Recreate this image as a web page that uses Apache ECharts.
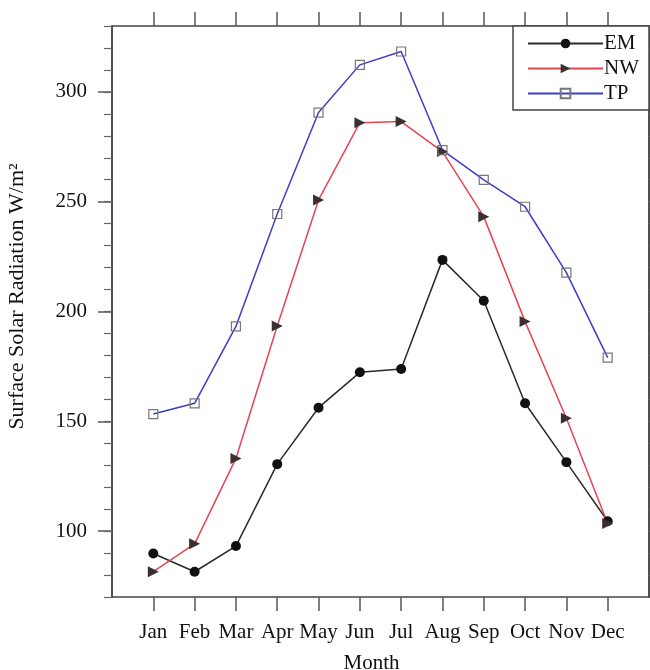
<!DOCTYPE html>
<html>
<head>
<meta charset="utf-8">
<script src="https://cdn.jsdelivr.net/npm/echarts@6/dist/echarts.min.js"></script>
<style>
  html, body { margin: 0; padding: 0; background: #fff; }
  #main { width: 650px; height: 670px; }
</style>
</head>
<body>
<div id="main"></div>
<script>
var months = ['Jan', 'Feb', 'Mar', 'Apr', 'May', 'Jun', 'Jul', 'Aug', 'Sep', 'Oct', 'Nov', 'Dec'];
var em = [89.8, 81.5, 93.2, 130.5, 156.2, 172.3, 173.8, 223.5, 204.9, 158.2, 131.4, 104.5];
var nw = [81.5, 94.2, 133.1, 193.4, 250.8, 286.0, 286.5, 272.8, 243.2, 195.4, 151.4, 103.5];
var tp = [153.3, 158.2, 193.2, 244.4, 290.6, 312.3, 318.4, 273.5, 259.9, 247.7, 217.7, 179.0];
var yMajor = [100, 150, 200, 250, 300];

var font = 'Liberation Serif';
var monthPos = months.map(function (m, i) { return i + 1; });

function pairs(arr) {
    return arr.map(function (v, i) { return [i + 1, v]; });
}

var myChart = echarts.init(document.getElementById('main'));

var axisLine = { show: true, lineStyle: { color: '#444', width: 1.5 } };

// y axes: one for the labelled 50-steps, one for the small 10-steps
function yAxes(pos) {
    return [{
        type: 'value', position: pos, min: 70, max: 330,
        name: pos === 'left' ? 'Surface Solar Radiation W/m²' : '',
        nameLocation: 'middle', nameGap: 84,
        nameTextStyle: { fontFamily: font, fontSize: 22, color: '#111', padding: [0, 0, 0, 30] },
        axisLine: axisLine,
        splitLine: { show: false },
        axisTick: { show: true, length: 14, customValues: yMajor, lineStyle: { color: '#555', width: 1.5 } },
        axisLabel: {
            show: pos === 'left', customValues: yMajor, margin: 25,
            fontFamily: font, fontSize: 21, color: '#111'
        }
    }, {
        type: 'value', position: pos, min: 70, max: 330, interval: 10,
        axisLine: axisLine,
        splitLine: { show: false },
        axisTick: { show: true, length: 8, lineStyle: { color: '#666', width: 1.2 } },
        axisLabel: { show: false }
    }];
}

var option = {
    backgroundColor: '#fff',
    animation: false,
    grid: { left: 112, right: 1, top: 26, bottom: 73, outerBoundsMode: 'none' },
    legend: {
        orient: 'vertical',
        right: 1, top: 26,
        padding: [7, 10, 6, 14],
        itemGap: 4,
        itemWidth: 75, itemHeight: 12,
        borderColor: '#444', borderWidth: 1.5,
        backgroundColor: '#fff',
        textStyle: { fontFamily: font, fontSize: 21, color: '#111', padding: [0, 0, 0, -4] },
        data: ['EM', 'NW', 'TP']
    },
    xAxis: [{
        type: 'value', position: 'bottom', min: 0, max: 13,
        name: 'Month', nameLocation: 'middle', nameGap: 56,
        nameTextStyle: { fontFamily: font, fontSize: 21, color: '#111', padding: [0, 18, 0, 0] },
        axisLine: axisLine,
        splitLine: { show: false },
        axisTick: { show: true, length: 14, customValues: monthPos, lineStyle: { color: '#555', width: 1.5 } },
        axisLabel: {
            customValues: monthPos, margin: 25,
            fontFamily: font, fontSize: 21, color: '#111',
            formatter: function (v) { return months[v - 1] || ''; }
        }
    }, {
        type: 'value', position: 'top', min: 0, max: 13,
        axisLine: axisLine,
        splitLine: { show: false },
        axisTick: { show: true, length: 14, customValues: monthPos, lineStyle: { color: '#555', width: 1.5 } },
        axisLabel: { show: false }
    }],
    yAxis: yAxes('left').concat(yAxes('right')),
    series: [{
        name: 'EM', type: 'line', data: pairs(em),
        symbol: 'circle', symbolSize: 10,
        lineStyle: { color: '#2a2a2a', width: 1.5 },
        itemStyle: { color: '#111' }
    }, {
        name: 'NW', type: 'line', data: pairs(nw),
        symbol: 'triangle', symbolSize: 11, symbolRotate: -90,
        lineStyle: { color: '#e64455', width: 1.5 },
        itemStyle: { color: '#3a3030' }
    }, {
        name: 'TP', type: 'line', data: pairs(tp),
        symbol: 'rect', symbolSize: 9,
        lineStyle: { color: '#3c3cc8', width: 1.5 },
        itemStyle: { color: 'rgba(255,255,255,0)', borderColor: '#777', borderWidth: 1.2 }
    }]
};

myChart.setOption(option);
</script>
</body>
</html>
